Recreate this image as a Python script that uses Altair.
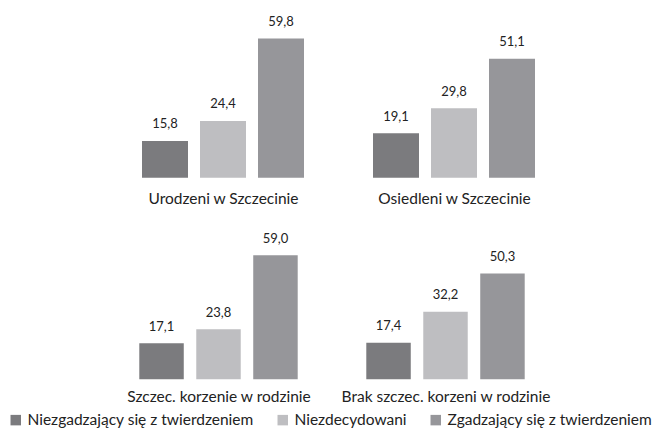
import altair as alt
import pandas as pd

groups = ["Niezgadzający się z twierdzeniem", "Niezdecydowani", "Zgadzający się z twierdzeniem"]
panels = ["Urodzeni w Szczecinie", "Osiedleni w Szczecinie",
          "Szczec. korzenie w rodzinie", "Brak szczec. korzeni w rodzinie"]
urodzeni = [15.8, 24.4, 59.8]
osiedleni = [19.1, 29.8, 51.1]
korzenie = [17.1, 23.8, 59.0]
brak = [17.4, 32.2, 50.3]
colors = ["#7b7b7e", "#bebec1", "#96969a"]

rows = []
for p, vals in zip(panels, [urodzeni, osiedleni, korzenie, brak]):
    for g, v in zip(groups, vals):
        rows.append({"panel": p, "group": g, "value": v,
                     "label": f"{v:.1f}".replace(".", ",")})
df = pd.DataFrame(rows)

FONT = "Lato"
TXT = "#222222"

legend = alt.Legend(title=None, orient="none", legendX=-115, legendY=402,
                    direction="horizontal", symbolType="square", symbolSize=110,
                    symbolStrokeWidth=0, labelFont=FONT, labelFontSize=15.5,
                    labelColor=TXT, labelOffset=4, columnPadding=21, labelLimit=400)


def panel(name, width, height, po, pi, title_pad):
    data = df[df.panel == name]
    base = alt.Chart(data).encode(
        x=alt.X("group:N", sort=groups,
                scale=alt.Scale(paddingInner=pi, paddingOuter=po),
                axis=alt.Axis(title=name, labels=False, ticks=False, domain=False,
                              titlePadding=title_pad, titleFontSize=15.5, titleFont=FONT,
                              titleFontWeight="normal", titleColor=TXT)),
        y=alt.Y("value:Q", scale=alt.Scale(domain=[0, 72], nice=False), axis=None),
    )
    bars = base.mark_bar().encode(
        color=alt.Color("group:N", sort=groups,
                        scale=alt.Scale(domain=groups, range=colors), legend=legend))
    text = base.mark_text(baseline="alphabetic", dy=-12.7, font=FONT, fontSize=13,
                          color=TXT).encode(text="label:N")
    return alt.layer(bars, text).properties(width=width, height=height)


p1 = panel(panels[0], 200, 167.8, 19 / 58, 12 / 58, 14.1)
p2 = panel(panels[1], 200, 167.8, 19 / 58, 12 / 58, 14.1)
p3 = panel(panels[2], 191, 151.3, 16.3 / 57, 12.5 / 57, 9.8)
p4 = panel(panels[3], 191, 151.3, 16.3 / 57, 12.5 / 57, 9.8)

top = alt.hconcat(p1, p2, spacing=31, bounds="flush")
bottom = alt.hconcat(p3, p4, spacing=36, bounds="flush")
chart = alt.vconcat(top, bottom, spacing=20).properties(
    padding={"left": 0, "top": 2, "right": 0, "bottom": 0}
).configure_view(strokeWidth=0)

chart.save("out.html", embed_options={"renderer": "svg", "actions": False})
